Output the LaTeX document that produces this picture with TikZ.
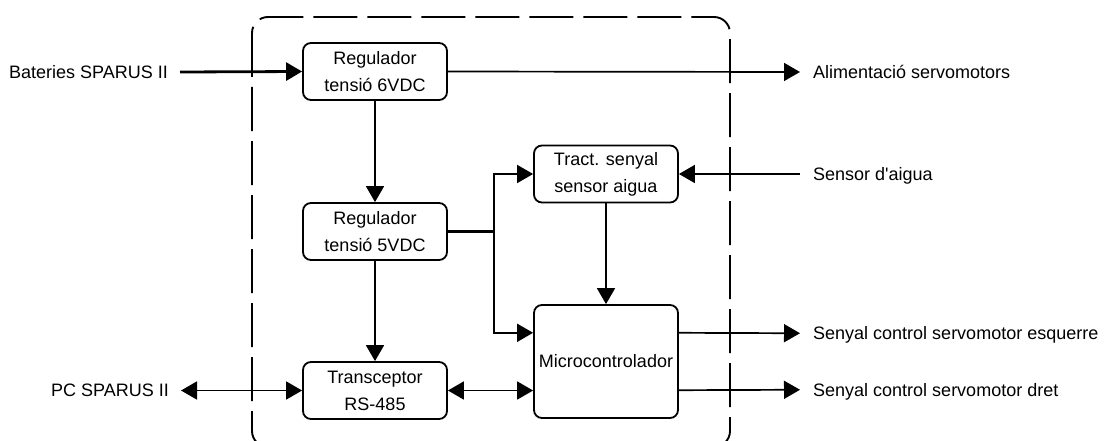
\documentclass[tikz,border=0pt]{standalone}
\usepackage{fontspec}
\setmainfont{Liberation Sans}
\usetikzlibrary{arrows.meta,calc}
\begin{document}
\begin{tikzpicture}[x=1pt,y=-1pt,
  blk/.style={draw,line width=1.8pt,rounded corners=8pt,minimum width=144pt,
    minimum height=57pt,inner sep=0pt,align=center,
    font=\fontsize{18pt}{27pt}\selectfont},
  lbl/.style={font=\fontsize{18pt}{22pt}\selectfont,inner sep=0pt},
  wire/.style={line width=1.7pt},
  tip/.tip={Triangle[length=16pt,width=18pt]},
  sig/.style={wire,-tip},
  bisig/.style={wire,tip-tip},
  board/.style={line width=1.9pt,dash pattern=on 44pt off 10pt,rounded corners=16pt},
]
\useasboundingbox (0,0) rectangle (1110,441);

% board outline
\draw[board] (252,17) rectangle (730,447);

% blocks
\node[blk] (r6)  at (375,71.5)  {Regulador\\tensió 6VDC};
\node[blk] (r5)  at (375,231.5) {Regulador\\tensió 5VDC};
\node[blk] (trx) at (375,390.5) {Transceptor\\RS-485};
\node[blk] (trc) at (606,174)   {Tract. senyal\\sensor aigua};
\node[blk,minimum height=113pt] (mcu) at (606,361.5) {Microcontrolador};

% external labels
\node[lbl,anchor=base east] (bat)  at (168,78.5)  {Bateries SPARUS II};
\node[lbl,anchor=base east] (pc)   at (169,396.5) {PC SPARUS II};
\node[lbl,anchor=base west] (alim) at (813,78.5)  {Alimentació servomotors};
\node[lbl,anchor=base west] (sens) at (813,180.5) {Sensor d\textquotesingle aigua};
\node[lbl,anchor=base west] (esq)  at (813,339.5) {Senyal control servomotor esquerre};
\node[lbl,anchor=base west] (dre)  at (813,396.5) {Senyal control servomotor dret};

% free ends of the external lines
\coordinate (batin)  at (180,72);
\coordinate (pcend)  at (181,390.5);
\coordinate (alimout) at (800,72);
\coordinate (sensin) at (800,174);
\coordinate (esqout) at (800,333.25);
\coordinate (dreout) at (800,389.75);
\coordinate (jn) at (494,231.5);
\coordinate (mcuA) at ($(mcu.north west)!0.25!(mcu.south west)$);
\coordinate (mcuB) at ($(mcu.north east)!0.25!(mcu.south east)$);
\coordinate (mcuC) at ($(mcu.north east)!0.75!(mcu.south east)$);

% connections
\draw[sig,line width=2.8pt] (batin) -- (r6.west);
\draw[sig] (r6.east) -- (alimout);
\draw[sig] (r6) -- (r5);
\draw[sig] (r5) -- (trx);
\draw[line width=2.8pt] (r5.east) -- (jn);
\draw[sig] (jn) |- (trc.west);
\draw[sig] (jn) |- (mcuA);
\draw[sig] (sensin) -- (trc.east);
\draw[sig] (trc) -- (mcu);
\draw[bisig] (pcend) -- (trx.west);
\draw[bisig] (trx.east) -- (trx.east -| mcu.west);
\draw[sig] (mcuB) -- (esqout);
\draw[sig] (mcuC) -- (dreout);
\end{tikzpicture}
\end{document}
